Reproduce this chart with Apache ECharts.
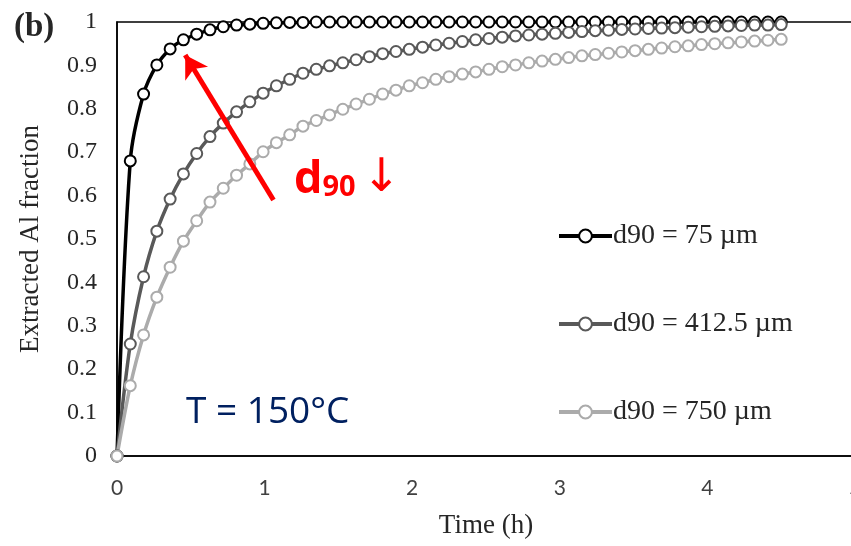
<!DOCTYPE html>
<html>
<head>
<meta charset="utf-8">
<script src="https://cdn.jsdelivr.net/npm/echarts@6/dist/echarts.min.js"></script>
<style>html,body{margin:0;padding:0;background:#fff}#c{width:851px;height:546px}</style>
</head>
<body>
<div id="c"></div>
<script>
// time step 0.09 h, 0 .. 4.5 h
var timeStep = 0.09;
var seriesNames = ['d90 = 75 µm', 'd90 = 412.5 µm', 'd90 = 750 µm'];
var d75 = [0, 0.680, 0.834, 0.901, 0.938, 0.959, 0.972, 0.982, 0.989, 0.993, 0.995,
  0.997, 0.998, 0.999, 0.999, 1, 1, 1, 1, 1, 1, 1, 1, 1, 1, 1, 1, 1, 1, 1, 1,
  1, 1, 1, 1, 1, 1, 1, 1, 1, 1, 1, 1, 1, 1, 1, 1, 1, 1, 1, 1];
var d412 = [0, 0.258, 0.413, 0.518, 0.592, 0.650, 0.697, 0.736, 0.767, 0.793, 0.816,
  0.836, 0.853, 0.868, 0.882, 0.891, 0.899, 0.906, 0.913, 0.920, 0.927,
  0.932, 0.937, 0.942, 0.947, 0.951, 0.955, 0.959, 0.962, 0.965, 0.968,
  0.970, 0.972, 0.974, 0.976, 0.978, 0.980, 0.981, 0.983, 0.984, 0.985,
  0.986, 0.987, 0.988, 0.989, 0.990, 0.991, 0.992, 0.993, 0.993, 0.994];
var d750 = [0, 0.162, 0.279, 0.366, 0.435, 0.495, 0.542, 0.585, 0.617, 0.647, 0.673,
  0.701, 0.722, 0.740, 0.760, 0.773, 0.786, 0.799, 0.811, 0.822, 0.834,
  0.843, 0.853, 0.860, 0.868, 0.874, 0.880, 0.885, 0.891, 0.897, 0.901,
  0.906, 0.910, 0.914, 0.918, 0.922, 0.925, 0.928, 0.931, 0.934, 0.937,
  0.940, 0.943, 0.945, 0.948, 0.950, 0.952, 0.954, 0.956, 0.958, 0.960];
var xTicks = [0, 1, 2, 3, 4, 5];
var yTicks = [0, 0.1, 0.2, 0.3, 0.4, 0.5, 0.6, 0.7, 0.8, 0.9, 1];
var arrowFrom = [1.06, 0.590];
var arrowTo = [0.462, 0.924];

function pairs(arr) {
  return arr.map(function (v, i) { return [+(i * timeStep).toFixed(2), v]; });
}
var colors = ['#000000', '#595959', '#ababab'];
var datas = [d75, d412, d750];

var series = datas.map(function (d, i) {
  return {
    name: seriesNames[i],
    type: 'line',
    data: pairs(d),
    smooth: 0.3,
    symbol: 'circle',
    symbolSize: 11,
    showAllSymbol: true,
    lineStyle: { color: colors[i], width: 3.5 },
    itemStyle: { color: '#ffffff', borderColor: colors[i], borderWidth: 2 },
    emphasis: { disabled: true }
  };
});
series.push({
  type: 'line',
  data: [],
  silent: true,
  markLine: {
    silent: true,
    symbol: ['none', 'arrow'],
    symbolSize: [20, 22],
    label: { show: false },
    lineStyle: { color: '#ff0000', width: 5, type: 'solid' },
    data: [[{ coord: arrowFrom }, { coord: arrowTo }]]
  }
});

var chart = echarts.init(document.getElementById('c'), null, { renderer: 'canvas' });
chart.setOption({
  animation: false,
  backgroundColor: '#fff',
  grid: { left: 117, top: 22, bottom: 90, width: 738, show: true, borderColor: '#000', borderWidth: 1.5,
          containLabel: false, outerBoundsMode: 'none' },
  xAxis: {
    type: 'value', min: xTicks[0], max: xTicks[xTicks.length - 1], interval: 1,
    name: 'Time (h)', nameLocation: 'middle', nameGap: 56,
    nameTextStyle: { fontFamily: 'Liberation Serif', fontSize: 27, color: '#262626' },
    axisLine: { lineStyle: { color: '#000', width: 1.5 } },
    axisTick: { show: false },
    splitLine: { show: false },
    axisLabel: { fontFamily: 'Lato', fontSize: 21, color: '#404040', margin: 22, hideOverlap: false }
  },
  yAxis: {
    type: 'value', min: yTicks[0], max: yTicks[yTicks.length - 1], interval: 0.1,
    name: 'Extracted Al fraction', nameLocation: 'middle', nameGap: 73, nameRotate: 90,
    nameTextStyle: { fontFamily: 'Liberation Serif', fontSize: 27, color: '#262626' },
    axisLine: { show: true, lineStyle: { color: '#000', width: 1.5 } },
    axisTick: { show: false },
    splitLine: { show: false },
    axisLabel: { fontFamily: 'Liberation Serif', fontSize: 24, color: '#262626', margin: 20 }
  },
  legend: {
    orient: 'vertical', left: 557, top: 222, itemGap: 60, padding: 0,
    itemWidth: 53, itemHeight: 16,
    data: seriesNames,
    lineStyle: { width: 4 },
    textStyle: { fontFamily: 'Liberation Serif', fontSize: 28, color: '#262626', padding: [0, 0, 0, -4] }
  },
  graphic: [
    { type: 'text', left: 14, top: 11, style: { text: '(b)', font: 'bold 33px "Liberation Serif"', fill: '#262626' } },
    { type: 'text', left: 186, top: 394, style: { text: 'T = 150°C', font: '37px "Open Sans"', fill: '#002060' } },
    { type: 'text', left: 294, top: 156, style: {
        text: '{d|d}{s|90}  {a|↓}',
        rich: {
          d: { font: 'bold 45px "Open Sans"', fill: '#ff0000', verticalAlign: 'bottom' },
          s: { font: 'bold 29px "Open Sans"', fill: '#ff0000', padding: [18, 0, 0, 0] },
          a: { font: '46px "DejaVu Sans"', fill: '#ff0000' }
        }
      } }
  ],
  series: series
});
</script>
</body>
</html>
